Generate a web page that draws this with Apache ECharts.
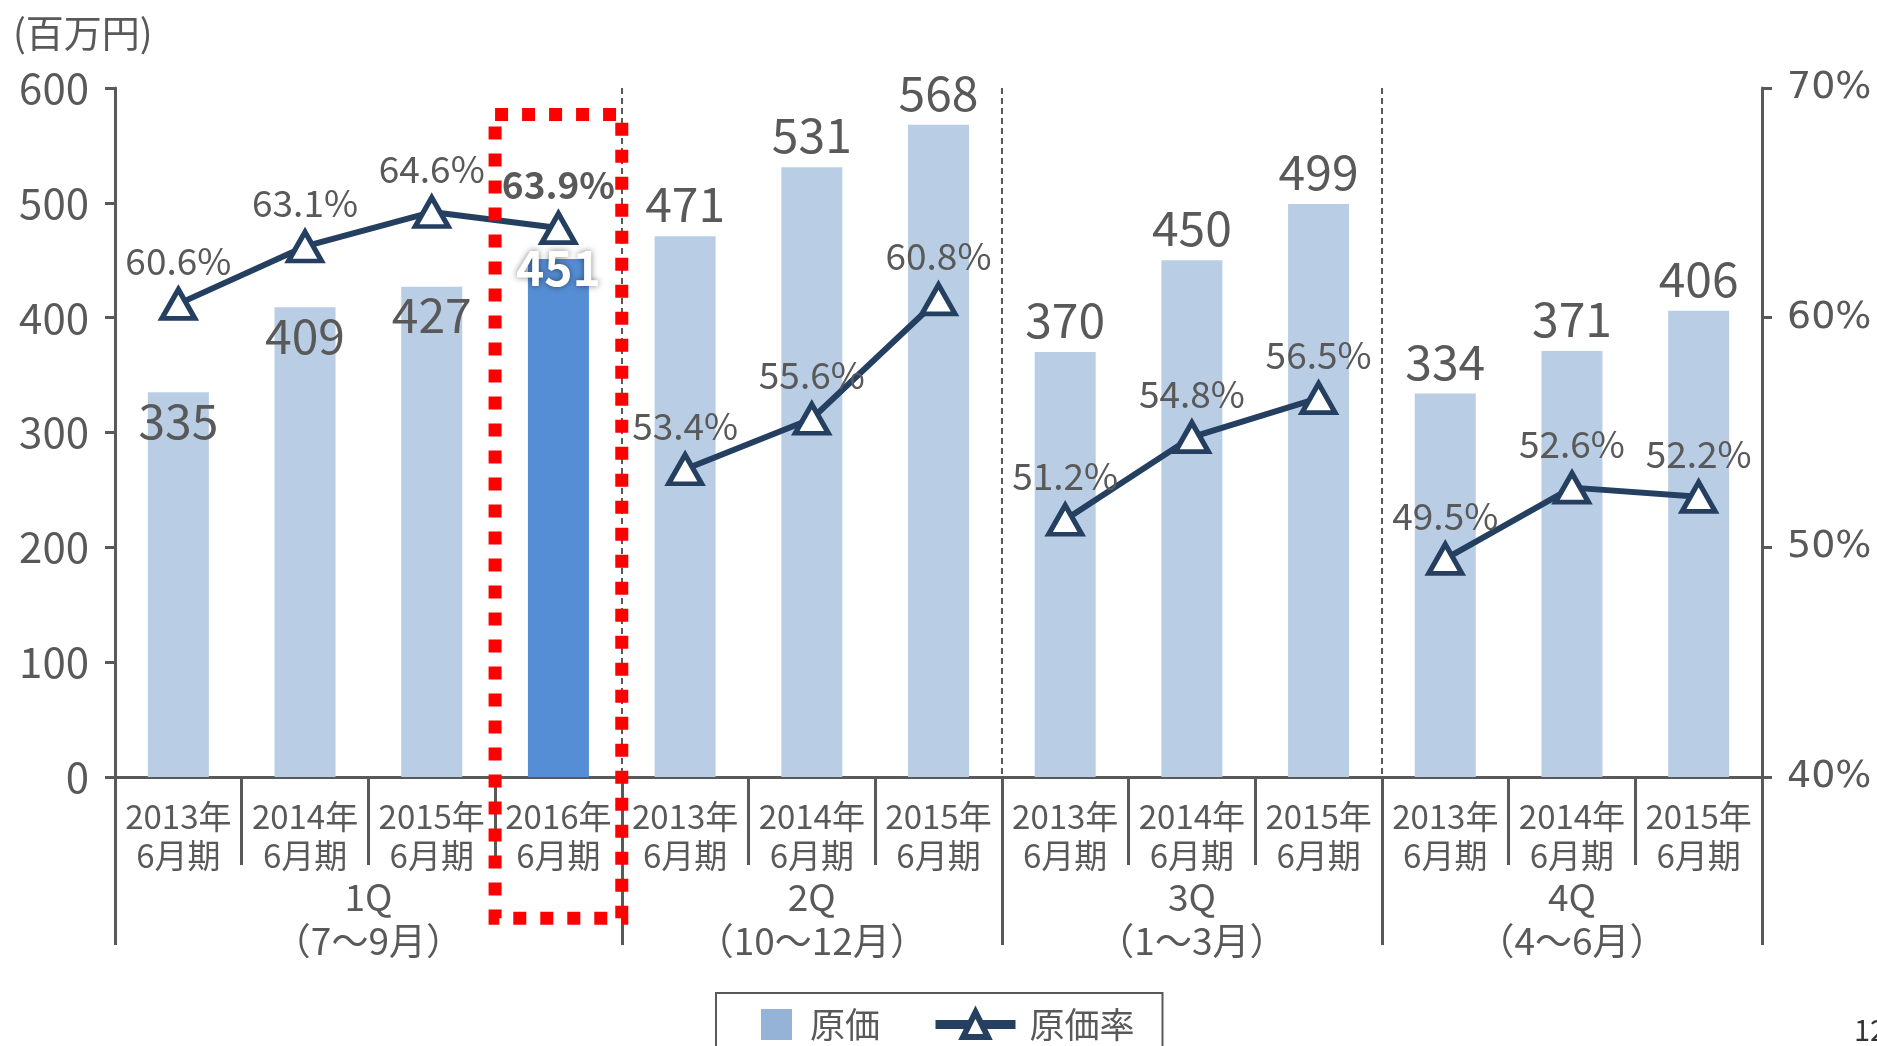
<!DOCTYPE html>
<html>
<head>
<meta charset="utf-8">
<script src="https://cdn.jsdelivr.net/npm/echarts@6/dist/echarts.min.js"></script>
<style>
  html, body { margin: 0; padding: 0; background: #fff; }
  #chart { width: 1877px; height: 1046px; }
</style>
</head>
<body>
<div id="chart"></div>
<script>
// 原価 (bars, 百万円) and 原価率 (line, %) by quarter and fiscal year

const years = ['2013年', '2014年', '2015年', '2016年', '2013年', '2014年', '2015年',
  '2013年', '2014年', '2015年', '2013年', '2014年', '2015年']
const periodLabel = '6月期'
const quarters = ['1Q', '2Q', '3Q', '4Q']
const quarterMonths = ['（7～9月）', '（10～12月）', '（1～3月）', '（4～6月）']
const quarterSizes = [4, 3, 3, 3]

const cost = [335, 409, 427, 451, 471, 531, 568, 370, 450, 499, 334, 371, 406]
const costRate = [60.6, 63.1, 64.6, 63.9, 53.4, 55.6, 60.8, 51.2, 54.8, 56.5, 49.5, 52.6, 52.2]

const highlightIndex = 3          // 2016年6月期 1Q
const insideLabelIndexes = [0, 1, 2]

const leftTicks = { min: 0, max: 600, interval: 100 }
const rightTicks = { min: 40, max: 70, interval: 10 }

const FONT = '"Noto Sans CJK JP", "Noto Sans", sans-serif'
const TXT = '#595959'
const AXIS = '#595959'
const NAVY = '#243f60'

// quarter boundaries and centres in category units
const bounds = [0]
quarterSizes.forEach(function (s) { bounds.push(bounds[bounds.length - 1] + s) })
const centers = quarterSizes.map(function (s, i) { return bounds[i] + s / 2 })

const barData = cost.map(function (v, i) {
  const item = { value: v }
  if (i === highlightIndex) {
    item.itemStyle = { color: '#558ed5' }
    item.label = {
      position: 'insideTop', offset: [0, -23], color: '#fff', fontWeight: 'bold',
      textShadowColor: 'rgba(0,0,0,0.5)', textShadowBlur: 6
    }
  } else if (insideLabelIndexes.indexOf(i) >= 0) {
    item.label = { position: 'insideTop', distance: 4 }
  }
  return item
})

// one line per quarter so the line breaks between quarters
const lineSeries = quarterSizes.map(function (s, q) {
  const data = costRate.map(function (v, i) {
    if (i < bounds[q] || i >= bounds[q + 1]) return '-'
    if (i === highlightIndex) return { value: v, label: { fontWeight: 'bold' } }
    return v
  })
  return {
    name: '原価率',
    type: 'line',
    yAxisIndex: 1,
    data: data,
    z: 5,
    symbol: 'triangle',
    symbolSize: [33, 29],
    lineStyle: { color: NAVY, width: 6 },
    itemStyle: { color: '#fff', borderColor: NAVY, borderWidth: 5 },
    label: {
      show: true, position: 'top', distance: 8,
      fontFamily: FONT, fontSize: 37, color: TXT,
      formatter: function (p) { return p.value + '%' }
    }
  }
})

const chart = echarts.init(document.getElementById('chart'))

chart.setOption({
  animation: false,
  textStyle: { fontFamily: FONT },
  title: [
    { text: '(百万円)', left: 8, top: 9, textStyle: { fontFamily: FONT, fontSize: 38, fontWeight: 'normal', color: TXT } },
    { text: '12', left: 1849, top: 1010, textStyle: { fontFamily: FONT, fontSize: 29, fontWeight: 'normal', color: '#333' } }
  ],
  grid: { left: 115, right: 115, top: 88, bottom: 269, containLabel: false },
  legend: {
    left: 716, top: 993,
    data: [
      { name: '原価', icon: 'path://M0,0M80,31M45,0h31v31h-31z', itemStyle: { color: '#95b3d7' } },
      {
        name: '原価率',
        lineStyle: { color: NAVY, width: 9 },
        itemStyle: { color: '#fff', borderColor: NAVY, borderWidth: 6 }
      }
    ],
    itemWidth: 80, itemHeight: 31, itemGap: 51,
    padding: [14, 28, 14, 0],
    borderColor: AXIS, borderWidth: 2,
    textStyle: { fontFamily: FONT, fontSize: 35, color: TXT, padding: [0, 0, 0, 9] }
  },
  xAxis: [
    {
      type: 'category',
      data: years,
      position: 'bottom',
      axisLine: { lineStyle: { color: AXIS, width: 3 } },
      axisTick: { show: true, interval: 0, length: 88, lineStyle: { color: AXIS, width: 3 } },
      axisLabel: {
        interval: 0, margin: 20, fontFamily: FONT, fontSize: 33, lineHeight: 39, color: TXT,
        formatter: function (v) { return v + '\n' + periodLabel }
      },
      splitLine: {
        show: true,
        interval: function (index) { return bounds.indexOf(index) > 0 && index < years.length },
        lineStyle: { color: AXIS, width: 2, type: [6, 4] }
      }
    },
    {
      type: 'value',
      min: 0, max: years.length,
      position: 'bottom',
      axisLine: { show: false },
      axisTick: { show: true, length: 168, customValues: bounds, lineStyle: { color: AXIS, width: 3 } },
      axisLabel: {
        show: true, customValues: centers, margin: 98,
        fontFamily: FONT, fontSize: 37, lineHeight: 44, color: TXT,
        formatter: function (v) {
          const q = centers.indexOf(v)
          return q >= 0 ? quarters[q] + '\n' + quarterMonths[q] : ''
        }
      },
      splitLine: { show: false }
    }
  ],
  yAxis: [
    {
      type: 'value', min: leftTicks.min, max: leftTicks.max, interval: leftTicks.interval,
      axisLine: { show: true, lineStyle: { color: AXIS, width: 3 } },
      axisTick: { show: true, length: 10, lineStyle: { color: AXIS, width: 3 } },
      axisLabel: { margin: 26, fontFamily: FONT, fontSize: 42, color: TXT },
      splitLine: { show: false }
    },
    {
      type: 'value', min: rightTicks.min, max: rightTicks.max, interval: rightTicks.interval,
      position: 'right',
      axisLine: { show: true, lineStyle: { color: AXIS, width: 3 } },
      axisTick: { show: true, length: 10, lineStyle: { color: AXIS, width: 3 } },
      axisLabel: { margin: 25, fontFamily: '"DejaVu Sans", sans-serif', fontSize: 38, color: TXT, formatter: '{value}%' },
      splitLine: { show: false }
    }
  ],
  series: [
    {
      name: '原価',
      type: 'bar',
      xAxisIndex: 0,
      yAxisIndex: 0,
      barWidth: 61,
      data: barData,
      itemStyle: { color: '#b9cde5' },
      label: {
        show: true, position: 'top', distance: 8,
        fontFamily: FONT, fontSize: 48, color: TXT
      }
    }
  ].concat(lineSeries)
})

// red dotted frame around the 2016年6月期 1Q column (from axis scales)
const frame = { from: highlightIndex, to: highlightIndex + 1, top: 577, bottom: -123 }
const fx1 = chart.convertToPixel({ xAxisIndex: 1 }, frame.from)
const fx2 = chart.convertToPixel({ xAxisIndex: 1 }, frame.to)
const fy1 = chart.convertToPixel({ yAxisIndex: 0 }, frame.top)
const fy2 = chart.convertToPixel({ yAxisIndex: 0 }, frame.bottom)
chart.setOption({
  graphic: [{
    type: 'rect', z: 100,
    shape: { x: fx1, y: fy1, width: fx2 - fx1, height: fy2 - fy1 },
    style: { fill: 'none', stroke: '#ff0000', lineWidth: 13, lineDash: [13, 14] }
  }]
})
</script>
</body>
</html>
